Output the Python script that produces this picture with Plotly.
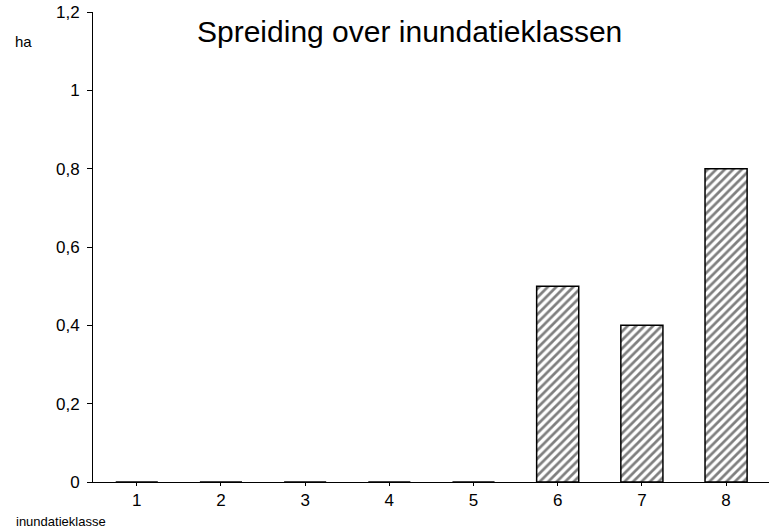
import plotly.graph_objects as go

categories = [1, 2, 3, 4, 5, 6, 7, 8]
values = [0, 0, 0, 0, 0, 0.5, 0.4, 0.8]
y_ticks = [0, 0.2, 0.4, 0.6, 0.8, 1, 1.2]
y_tick_labels = ["0", "0,2", "0,4", "0,6", "0,8", "1", "1,2"]

fig = go.Figure(go.Bar(
    x=categories, y=values, width=0.5,
    marker=dict(color="white", line=dict(color="black", width=1.5),
                pattern=dict(shape="/", fgcolor="black", bgcolor="white",
                             size=6, solidity=0.45)),
))

font = "Liberation Sans, Arial, sans-serif"
L, R, T, B = 93, 0, 12, 50
W, H = 769, 532
pw, ph = W - L - R, H - T - B


def px2paper(px, py):
    return (px - L) / pw, (H - B - py) / ph


anns = []
for text, px, py, size, anchor in [
    ("Spreiding over inundatieklassen", 409, 31, 30, "center"),
    ("ha", 13, 42, 15, "left"),
    ("inundatieklasse", 14, 521, 13, "left"),
]:
    x, y = px2paper(px, py)
    anns.append(dict(text=text, x=x, y=y, xref="paper", yref="paper", xanchor=anchor,
                     yanchor="middle", showarrow=False,
                     font=dict(size=size, family=font, color="black")))

fig.update_layout(
    width=W, height=H,
    margin=dict(l=L, r=R, t=T, b=B),
    paper_bgcolor="white", plot_bgcolor="white",
    showlegend=False,
    font=dict(family=font, size=17, color="black"),
    annotations=anns,
)

fig.update_xaxes(range=[0.48, 8.51], tickvals=categories, ticktext=[str(c) for c in categories],
                 showline=True, linecolor="black", linewidth=1, ticks="outside", ticklen=3,
                 tickcolor="black", showgrid=False, zeroline=False, tickfont=dict(size=17))
fig.update_yaxes(range=[0, 1.2], tickvals=y_ticks, ticktext=y_tick_labels,
                 showline=True, linecolor="black", linewidth=1, ticks="outside", ticklen=5,
                 tickcolor="black", showgrid=False, zeroline=False, tickfont=dict(size=17),
                 ticklabelstandoff=4)

fig.write_html("out.html", config={"displayModeBar": False},
               post_script="document.body.style.margin='0';")
